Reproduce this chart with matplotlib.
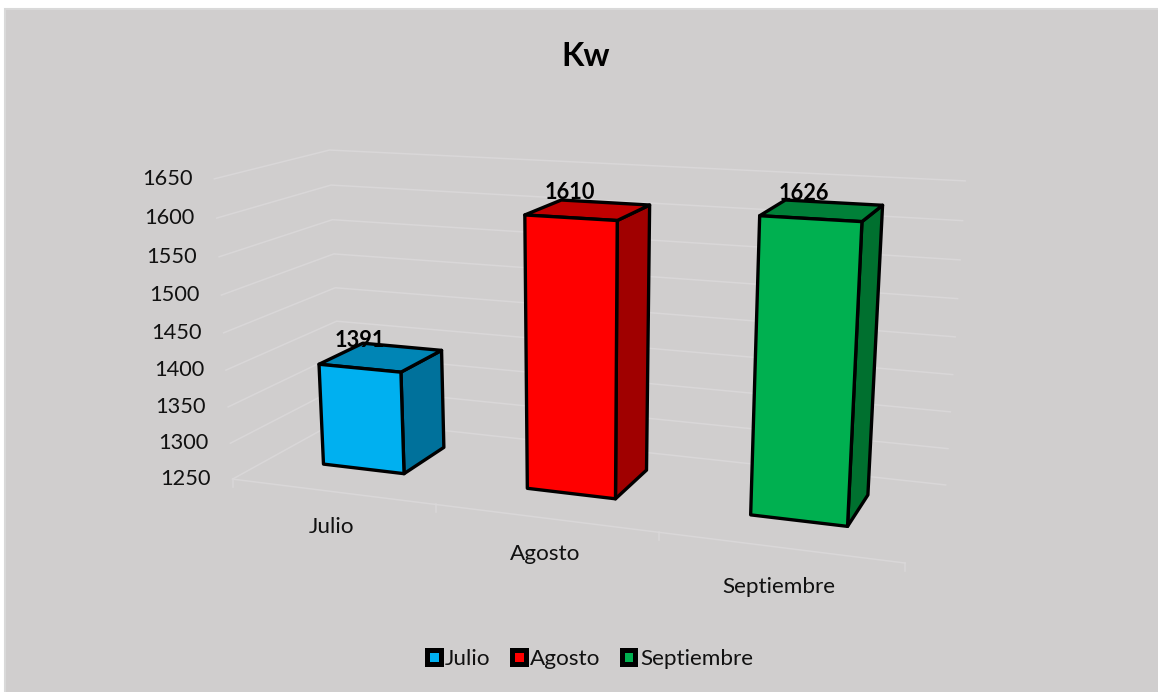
import numpy as np
import matplotlib
matplotlib.use("Agg")
import matplotlib.pyplot as plt
from matplotlib.patches import Polygon, Rectangle, Patch

categories = ["Julio", "Agosto", "Septiembre"]
values = [1391, 1610, 1626]
y_ticks = [1250, 1300, 1350, 1400, 1450, 1500, 1550, 1600, 1650]
title = "Kw"
front_colors = ["#00B0F0", "#FF0000", "#00B050"]
top_colors = ["#0085B5", "#C00000", "#008038"]
side_colors = ["#00719B", "#A00000", "#00702F"]

V0, V1 = y_ticks[0], y_ticks[-1]
world = [(0, 0, V0), (1, 0, V0), (2, 0, V0), (3, 0, V0), (0, 0, V1), (0, 1, V1), (3, 1, V1), (3, 1, V0), (0, 1, V0)]
pix = [(232, 477), (436, 503), (659, 533), (906, 564), (214, 181), (330, 148), (965, 181), (945, 484), (341, 422)]

def fit_projection():
    A, b = [], []
    for (x, d, v), (px, py) in zip(world, pix):
        h = (v - V0) / (V1 - V0)
        A.append([x, d, h, 1, 0, 0, 0, 0, -px * x, -px * d, -px * h]); b.append(px)
        A.append([0, 0, 0, 0, x, d, h, 1, -py * x, -py * d, -py * h]); b.append(py)
    return np.linalg.lstsq(np.array(A, float), np.array(b, float), rcond=None)[0]

P = fit_projection()

def proj(x, d, v):
    h = (v - V0) / (V1 - V0)
    w = P[8] * x + P[9] * d + P[10] * h + 1
    return ((P[0] * x + P[1] * d + P[2] * h + P[3]) / w,
            (P[4] * x + P[5] * d + P[6] * h + P[7]) / w)

plt.rcParams["font.family"] = ["Lato", "DejaVu Sans"]
fig = plt.figure(figsize=(11.58, 6.92), dpi=100, facecolor="white")
ax = fig.add_axes([0, 0, 1, 1])
ax.set_xlim(0, 1158)
ax.set_ylim(692, 0)
ax.axis("off")

ax.add_patch(Rectangle((5, 9), 1160, 690, facecolor="#D0CECE", edgecolor="#D9D9D9", lw=1.5, zorder=0))

GRID = "#D9D7D8"
for v in y_ticks:
    pts = [proj(0, 0, v), proj(0, 1, v), proj(3, 1, v)]
    ax.plot(*zip(*pts), color=GRID, lw=1.1, zorder=1, solid_joinstyle="miter")
    fx, fy = proj(0, 0, v)
    ax.text(fx - 22, fy, str(v), ha="right", va="center", fontsize=15.7, color="#111111")

ax.plot(*zip(proj(0, 0, V0), proj(3, 0, V0)), color=GRID, lw=1.1, zorder=1)
for i in range(4):
    px, py = proj(i, 0, V0)
    ax.plot([px, px], [py, py + 8], color=GRID, lw=1.1, zorder=1)

BAR_L, BAR_R = 0.275, 0.685
D0, D1 = 0.33, 0.75
bar_nudge = [0.0, 0.01, 0.02]
label_dx = [-46, -37, -30]
label_dy = [-7, -10, -9]
cat_dy = [35, 36, 40]
for i, (val, fc, tc, sc) in enumerate(zip(values, front_colors, top_colors, side_colors)):
    x0, x1 = i + BAR_L + bar_nudge[i], i + BAR_R + bar_nudge[i]
    faces = [
        ([(x1, D0, V0), (x1, D1, V0), (x1, D1, val), (x1, D0, val)], sc),
        ([(x0, D0, val), (x1, D0, val), (x1, D1, val), (x0, D1, val)], tc),
        ([(x0, D0, V0), (x1, D0, V0), (x1, D0, val), (x0, D0, val)], fc),
    ]
    for corners, col in faces:
        ax.add_patch(Polygon([proj(*c) for c in corners], closed=True, facecolor=col,
                             edgecolor="black", lw=2.4, joinstyle="round", zorder=3))
    bx, by = proj(i + 0.5, D1, val)
    ax.text(bx + label_dx[i], by + label_dy[i], str(val), ha="center", va="center", fontsize=15.7,
            fontweight="bold", color="black", zorder=5)
    lx, ly = proj(i + 0.5, 0, V0)
    ax.text(lx, ly + cat_dy[i], categories[i], ha="center", va="center", fontsize=16.2, color="#111111")

ax.text(586, 57, title, ha="center", va="center", fontsize=23.5, fontweight="bold", color="black")

handles = [Patch(facecolor=c, edgecolor="black", lw=3.6, joinstyle="round", label=n) for c, n in zip(front_colors, categories)]
ax.legend(handles=handles, loc="center", bbox_to_anchor=(590 / 1158, 1 - 659 / 692), ncol=3,
          frameon=False, fontsize=16.2, handlelength=0.6, handleheight=0.6, handletextpad=0.2,
          columnspacing=0.95, labelcolor="#111111")

fig.savefig("out.png", dpi=100)
